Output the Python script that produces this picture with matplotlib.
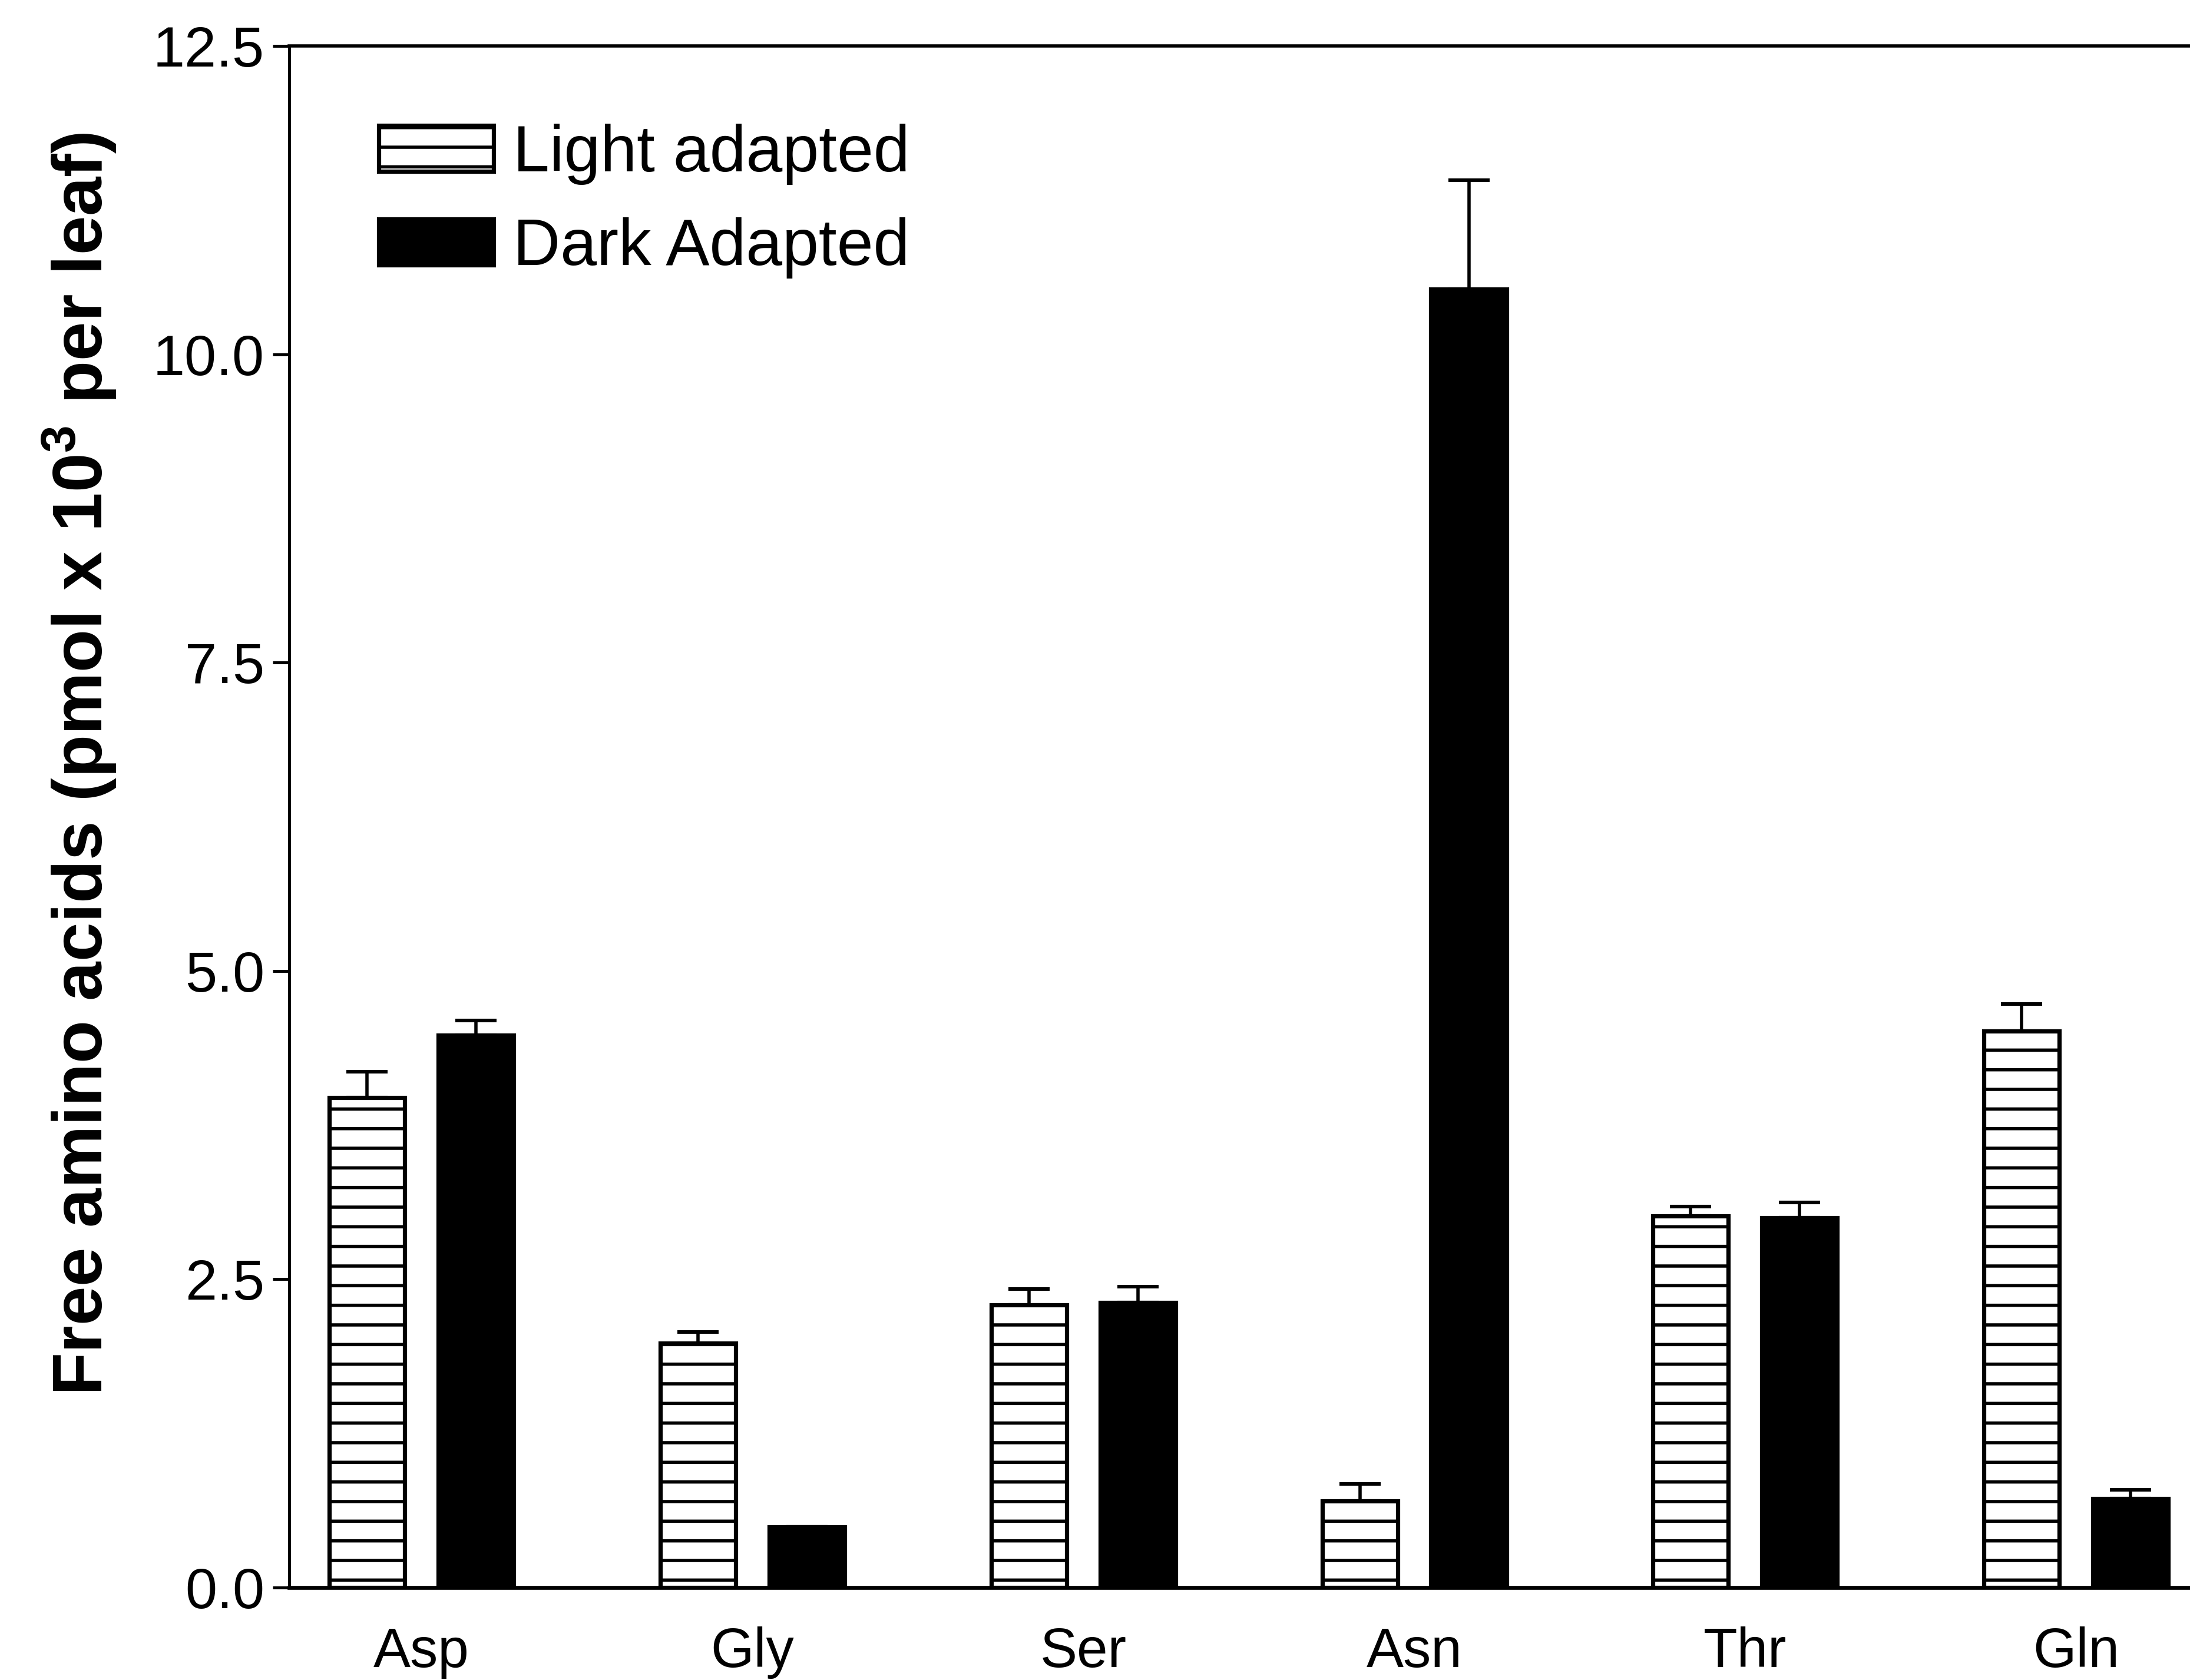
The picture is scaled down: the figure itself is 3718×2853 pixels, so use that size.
import matplotlib
matplotlib.use("Agg")
import matplotlib.pyplot as plt
import numpy as np

categories = ["Asp", "Gly", "Ser", "Asn", "Thr", "Gln"]
light_vals = [3.97, 1.98, 2.29, 0.70, 3.01, 4.51]
light_err = [0.21, 0.09, 0.13, 0.14, 0.08, 0.22]
dark_vals = [4.48, 0.49, 2.31, 10.53, 3.00, 0.72]
dark_err = [0.12, 0.0, 0.13, 0.88, 0.12, 0.07]
yticks = [0.0, 2.5, 5.0, 7.5, 10.0, 12.5]
ytick_labels = ["0.0", "2.5", "5.0", "7.5", "10.0", "12.5"]

plt.rcParams['font.family'] = ['Liberation Sans', 'DejaVu Sans']
plt.rcParams['mathtext.fontset'] = 'custom'
plt.rcParams['mathtext.rm'] = 'Liberation Sans:bold'
plt.rcParams['mathtext.bf'] = 'Liberation Sans:bold'
plt.rcParams['hatch.linewidth'] = 2.0
plt.rcParams['hatch.color'] = 'black'

fig = plt.figure(figsize=(18.59, 14.265), dpi=200)
ax = fig.add_axes([0.132, 0.0551, 0.868, 0.9175])

x = np.arange(len(categories))
off = 0.1646
w = 0.228
ekw = dict(elinewidth=2.0, capthick=2.2, ecolor='black')
n = len(categories)
ax.bar(x - off, light_vals, w, color='white', edgecolor='black', linewidth=2.6,
       hatch='-', label='Light adapted',
       yerr=[[0] * n, light_err], capsize=12.5, error_kw=ekw)
ax.bar(x + off, dark_vals, w, color='black', edgecolor='black', linewidth=2.6,
       label='Dark Adapted',
       yerr=[[0] * n, dark_err], capsize=12.5, error_kw=ekw)

ax.set_xlim(-0.4, 5.344)
ax.set_ylim(0, 12.5)
ax.set_yticks(yticks)
ax.set_yticklabels(ytick_labels)
ax.set_xticks(x)
ax.set_xticklabels(categories)
ax.tick_params(axis='y', length=10, width=1.8, direction='out', pad=5, labelsize=35)
ax.tick_params(axis='x', length=0, pad=24, labelsize=34)
ax.spines['right'].set_visible(False)
ax.spines['left'].set_linewidth(1.8)
ax.spines['top'].set_linewidth(2.0)
ax.spines['bottom'].set_linewidth(2.4)

fig.text(0.0363, 0.5454, r"Free amino acids (pmol x 10$^{\mathbf{3}}$ per leaf)",
         rotation=90, ha='center', va='center', fontsize=43, fontweight='bold')

leg = ax.legend(loc='upper left', bbox_to_anchor=(0.173, 0.9265),
                bbox_transform=fig.transFigure, frameon=False, fontsize=40,
                handlelength=1.75, handleheight=0.7, handletextpad=0.3,
                labelspacing=0.5, borderpad=0, borderaxespad=0)

fig.savefig("out.png", dpi=200)
